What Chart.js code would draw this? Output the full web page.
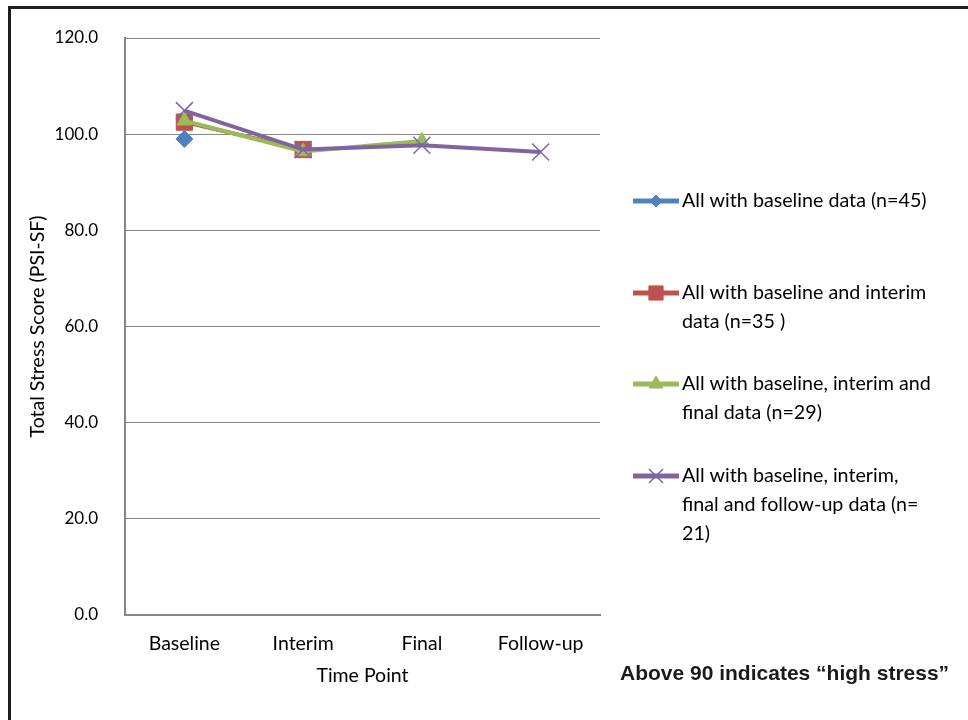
<!DOCTYPE html>
<html>
<head>
<meta charset="utf-8">
<script src="https://cdn.jsdelivr.net/npm/chart.js@4.4.1/dist/chart.umd.min.js"></script>
<style>
  body { margin: 0; background: #fff; }
  canvas { display: block; }
</style>
</head>
<body>
<canvas id="stressChart" width="968" height="720"></canvas>
<script>
// data
const timePoints = ['Baseline', 'Interim', 'Final', 'Follow-up'];
const allBaseline = [99.0, null, null, null];
const baselineInterim = [102.5, 96.8, null, null];
const baselineInterimFinal = [102.8, 96.4, 98.6, null];
const allFourPoints = [104.9, 96.8, 97.7, 96.3];
const seriesNames = [
  'All with baseline data (n=45)',
  'All with baseline and interim data (n=35 )',
  'All with baseline, interim and final data (n=29)',
  'All with baseline, interim, final and follow-up data (n= 21)'
];
const legendLines = [
  ['All with baseline data (n=45)'],
  ['All with baseline and interim', 'data (n=35 )'],
  ['All with baseline, interim and', 'final data (n=29)'],
  ['All with baseline, interim,', 'final and follow-up data (n=', '21)']
];
const yTicks = [0, 20, 40, 60, 80, 100, 120];
const noteText = 'Above 90 indicates \u201chigh stress\u201d';

const fontName = 'Lato, "Open Sans", sans-serif';
Chart.defaults.font.family = fontName;
Chart.defaults.font.size = 17;
Chart.defaults.color = '#000';

function mkSet(label, data, color, style, radius, order) {
  return {
    label: label,
    data: data,
    borderColor: color,
    backgroundColor: color,
    borderWidth: 4,
    pointStyle: style,
    pointRadius: radius,
    pointBackgroundColor: color,
    pointBorderColor: color,
    pointBorderWidth: style === 'crossRot' ? 1.5 : 1,
    tension: 0,
    spanGaps: false,
    order: order
  };
}

const legendRadius = [6, 10, 8, 10];

// frame, legend and note
const extras = {
  id: 'extras',
  afterDraw(chart) {
    const c = chart.ctx;
    c.save();
    c.fillStyle = '#1f1f1f';
    c.fillRect(8, 6, 960, 3);
    c.fillRect(8, 6, 3, 714);

    const startY = [201, 293, 384, 476];
    c.font = '19.7px ' + fontName;
    c.textBaseline = 'middle';
    c.textAlign = 'left';
    chart.data.datasets.forEach((ds, i) => {
      const y = startY[i];
      c.strokeStyle = ds.borderColor;
      c.fillStyle = ds.borderColor;
      c.lineWidth = 5;
      c.beginPath();
      c.moveTo(633, y);
      c.lineTo(679, y);
      c.stroke();
      c.lineWidth = ds.pointBorderWidth;
      Chart.helpers.drawPoint(c, {
        pointStyle: ds.pointStyle,
        radius: legendRadius[i],
        borderWidth: ds.pointBorderWidth,
        rotation: 0
      }, 656, y);
      c.fillStyle = '#000';
      legendLines[i].forEach((t, j) => c.fillText(t, 682, y + j * 28.7));
    });

    c.font = 'bold 21px "Liberation Sans", Arial, sans-serif';
    c.fillStyle = '#1a1a1a';
    c.fillText(noteText, 620, 674);
    c.restore();
  }
};

const ctx = document.getElementById('stressChart').getContext('2d');
const stressChart = new Chart(ctx, {
  type: 'line',
  data: {
    labels: timePoints,
    datasets: [
      mkSet(seriesNames[0], allBaseline, '#4F81BD', 'rectRot', 8.5, 4),
      mkSet(seriesNames[1], baselineInterim, '#C0504D', 'rect', 11.5, 3),
      mkSet(seriesNames[2], baselineInterimFinal, '#9BBB59', 'triangle', 8.5, 2),
      mkSet(seriesNames[3], allFourPoints, '#8064A2', 'crossRot', 12, 1)
    ]
  },
  options: {
    responsive: false,
    animation: false,
    devicePixelRatio: 1,
    layout: { padding: { left: 0, top: 38, right: 368, bottom: 30 } },
    plugins: {
      legend: { display: false },
      tooltip: { enabled: false }
    },
    scales: {
      x: {
        offset: true,
        grid: { display: false, drawTicks: false },
        border: { display: true, color: '#868686', width: 2 },
        ticks: { padding: 17, font: { size: 19.5 } },
        title: { display: true, text: 'Time Point', padding: { top: 0, bottom: 3 }, font: { size: 19.5 } },
        afterFit(scale) { scale.height = 75; }
      },
      y: {
        min: 0,
        max: 120,
        afterBuildTicks(scale) { scale.ticks = yTicks.map(v => ({ value: v })); },
        grid: { color: '#868686', lineWidth: 1, drawTicks: false },
        border: { display: true, color: '#868686', width: 2 },
        ticks: { padding: 27, callback: v => Number(v).toFixed(1), font: { size: 17 } },
        title: { display: true, text: 'Total Stress Score (PSI-SF)', padding: { top: 26, bottom: 0 }, font: { size: 19.5 } },
        afterFit(scale) { scale.width = 125; }
      }
    }
  },
  plugins: [extras]
});
</script>
</body>
</html>
